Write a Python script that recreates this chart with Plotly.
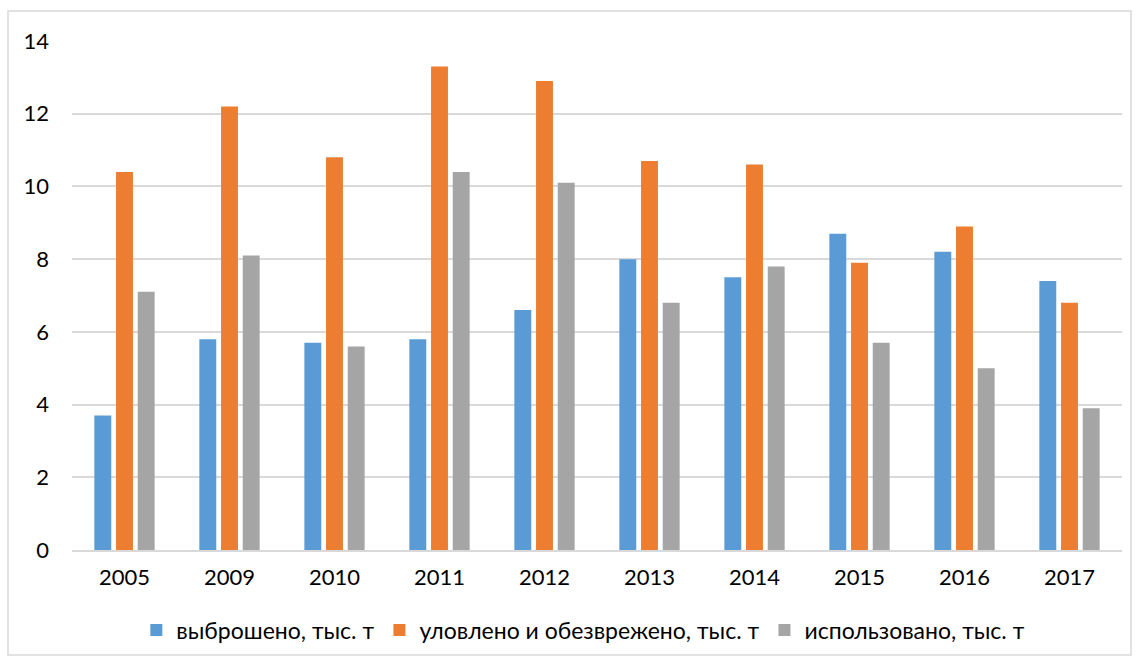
import plotly.graph_objects as go

years = ["2005", "2009", "2010", "2011", "2012", "2013", "2014", "2015", "2016", "2017"]
emitted = [3.7, 5.8, 5.7, 5.8, 6.6, 8.0, 7.5, 8.7, 8.2, 7.4]
captured = [10.4, 12.2, 10.8, 13.3, 12.9, 10.7, 10.6, 7.9, 8.9, 6.8]
used = [7.1, 8.1, 5.6, 10.4, 10.1, 6.8, 7.8, 5.7, 5.0, 3.9]
names = ["выброшено, тыс. т", "уловлено и обезврежено, тыс. т", "использовано, тыс. т"]
colors = ["#5B9BD5", "#ED7D31", "#A5A5A5"]

FONT = "Lato, Open Sans, sans-serif"
fig = go.Figure()
for vals, nm, c in zip([emitted, captured, used], names, colors):
    fig.add_trace(go.Bar(x=years, y=vals, name=nm, marker=dict(color=c, line=dict(width=0))))

fig.update_layout(
    width=1139, height=666,
    barmode="group", bargap=0.38, bargroupgap=0.22,
    paper_bgcolor="white", plot_bgcolor="white",
    margin=dict(l=72, r=17, t=41, b=116),
    font=dict(family=FONT, size=22, color="#000000"),
    xaxis=dict(showgrid=False, showline=True, linecolor="#D9D9D9", linewidth=1.5,
               ticks="", tickfont=dict(size=22), ticklabelstandoff=7),
    yaxis=dict(range=[0, 14], dtick=2, showgrid=True, gridcolor="#D9D9D9", gridwidth=1.5,
               zeroline=False, ticks="", tickfont=dict(size=22), ticklabelstandoff=22),
    legend=dict(orientation="h", x=0.487, xanchor="center", y=-0.115, yanchor="top",
                font=dict(size=23), itemwidth=30, tracegroupgap=0),
    shapes=[dict(type="rect", xref="paper", yref="paper",
                 x0=-64/1050, x1=1+9/1050, y0=-105/509, y1=1+30/509,
                 line=dict(color="#D9D9D9", width=1.5), fillcolor="rgba(0,0,0,0)")],
)
fig.write_html("out.html")
